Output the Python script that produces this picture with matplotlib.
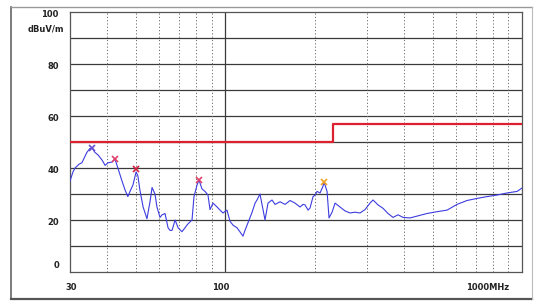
import matplotlib
matplotlib.use("Agg")
import matplotlib.pyplot as plt
from matplotlib.lines import Line2D
import numpy as np

freq = [30.0, 30.7, 31.2, 32.2, 32.9, 33.7, 34.2, 35.0, 35.6, 36.4, 37.3, 38.5,
        39.4, 40.3, 41.6, 42.5, 43.5, 44.9, 46.0, 47.0, 47.8, 48.9, 50.1, 50.8,
        51.6, 52.9, 54.5, 55.8, 56.7, 58.0, 58.9, 60.3, 61.3, 62.7, 64.2, 65.2,
        66.2, 67.8, 69.4, 71.5, 73.2, 74.9, 77.3, 78.5, 80.4, 81.6, 83.5, 85.5,
        87.5, 88.9, 91.0, 93.9, 96.1, 98.3, 101.4, 103.8, 106.3, 109.6, 112.2,
        114.8, 116.6, 119.4, 123.2, 126.1, 128.0, 131.0, 134.1, 136.2, 139.4,
        143.8, 147.2, 153.1, 159.1, 165.4, 171.9, 178.7, 182.9, 185.8, 190.2,
        193.1, 197.7, 200.8, 203.9, 208.7, 213.6, 215.3, 220.4, 223.8, 229.1,
        234.5, 243.7, 253.4, 263.4, 273.8, 284.6, 295.9, 307.6, 314.9, 327.3,
        340.2, 353.7, 367.7, 382.2, 397.3, 419.6, 443.0, 478.6, 517.4, 559.1,
        604.1, 652.9, 705.5, 762.5, 824.1, 890.7, 962.5, 1000.0]
level = [35.0, 38.5, 40.0, 41.5, 42.0, 44.5, 46.0, 47.5, 47.7, 46.0, 45.0, 43.0,
         41.0, 42.0, 42.3, 43.5, 40.0, 35.0, 31.5, 29.0, 31.0, 33.5, 38.5, 37.0,
         31.5, 25.0, 20.5, 27.0, 32.5, 30.0, 25.0, 21.0, 22.0, 22.5, 17.0, 16.0,
         16.0, 20.0, 17.0, 15.5, 17.0, 18.5, 20.0, 29.0, 33.5, 35.4, 32.0, 31.0,
         29.6, 24.0, 26.5, 25.0, 23.8, 22.7, 23.8, 19.5, 18.0, 17.0, 15.4,
         13.8, 16.0, 19.0, 23.0, 26.5, 27.7, 30.0, 24.0, 20.0, 26.5,
         27.7, 26.0, 27.0, 26.0, 27.5, 26.5, 25.0, 26.0, 25.8, 23.8,
         24.6, 29.0, 29.6, 31.0, 30.4, 33.0, 34.6, 31.0, 20.8, 23.0,
         26.5, 25.0, 23.5, 22.7, 23.0, 22.7, 24.0, 26.5, 27.7, 25.8,
         24.5, 22.5, 21.0, 22.0, 21.0, 20.8, 21.5, 22.5, 23.2, 23.8,
         26.0, 27.5, 28.3, 29.0, 29.6, 30.4, 31.0, 32.3]

# limit line (class B style)
limit_freq = [30, 230, 230, 1000]
limit_level = [50, 50, 57, 57]

# peak markers
peak_freq = [35.6, 42.5, 50.1, 81.6, 215.3]
peak_level = [47.7, 43.5, 39.6, 35.4, 34.6]
peak_colors = ['#6a4fd0', '#e0406a', '#d02040', '#e0406a', '#f0a020']

fig = plt.figure(figsize=(5.34, 3.03), dpi=100)
ax = fig.add_axes([70 / 534, 31 / 303, 452 / 534, 260 / 303])

ax.set_xscale('log')
ax.set_xlim(30, 1000)
ax.set_ylim(0, 100)

# grid
for y in range(10, 100, 10):
    ax.axhline(y, color='#3a3a3a', lw=0.9, zorder=1)
ax.axvline(100, color='#3a3a3a', lw=0.9, zorder=1)
for x in [40, 50, 60, 70, 80, 90, 200, 300, 400, 500, 600, 700, 800, 900]:
    ax.axvline(x, color='#6a6a6a', lw=0.7, ls=(0, (1.2, 2.2)), zorder=1)

ax.plot(limit_freq, limit_level, color='#dd2030', lw=1.6, zorder=3)
ax.plot(freq, level, color='#3c3ce0', lw=0.8, zorder=4)
for f, l, c in zip(peak_freq, peak_level, peak_colors):
    ax.plot(f, l, marker='x', color=c, ms=4, mew=1.2, zorder=5)

ax.set_xticks([])
ax.set_yticks([])
ax.minorticks_off()
for s in ax.spines.values():
    s.set_color('#555555')
    s.set_linewidth(0.9)

fs = 6
tkw = dict(fontsize=fs, fontweight='bold', color='#222222')
for v in [100, 80, 60, 40, 20]:
    ax.annotate(str(v), (0, v), xycoords=('axes fraction', 'data'),
                xytext=(-8, -2), textcoords='offset points', ha='right', va='center', **tkw)
ax.annotate('0', (0, 0), xycoords=('axes fraction', 'data'),
            xytext=(-8, 5), textcoords='offset points', ha='right', va='center', **tkw)
ax.annotate('dBuV/m', (0, 100), xycoords=('axes fraction', 'data'),
            xytext=(-4, -12), textcoords='offset points', ha='right', va='center', **tkw)
ax.annotate('30', (30, 0), xycoords=('data', 'axes fraction'),
            xytext=(1, -11), textcoords='offset points', ha='center', va='center', **tkw)
ax.annotate('100', (100, 0), xycoords=('data', 'axes fraction'),
            xytext=(-3, -11), textcoords='offset points', ha='center', va='center', **tkw)
ax.annotate('1000MHz', (1000, 0), xycoords=('data', 'axes fraction'),
            xytext=(-9, -11), textcoords='offset points', ha='right', va='center', **tkw)

# outer panel frame
W, H = 534, 303
fig.add_artist(Line2D([11 / W, 11 / W], [1 - 7 / H, 1 - 299 / H], color='#666666', lw=1.2))
fig.add_artist(Line2D([11 / W, 532 / W], [1 - 299 / H, 1 - 299 / H], color='#555555', lw=1.6))
fig.add_artist(Line2D([11 / W, 532 / W], [1 - 7 / H, 1 - 7 / H], color='#999999', lw=1.0))
fig.add_artist(Line2D([532 / W, 532 / W], [1 - 7 / H, 1 - 299 / H], color='#bbbbbb', lw=0.8))

fig.savefig('out.png', dpi=100)
